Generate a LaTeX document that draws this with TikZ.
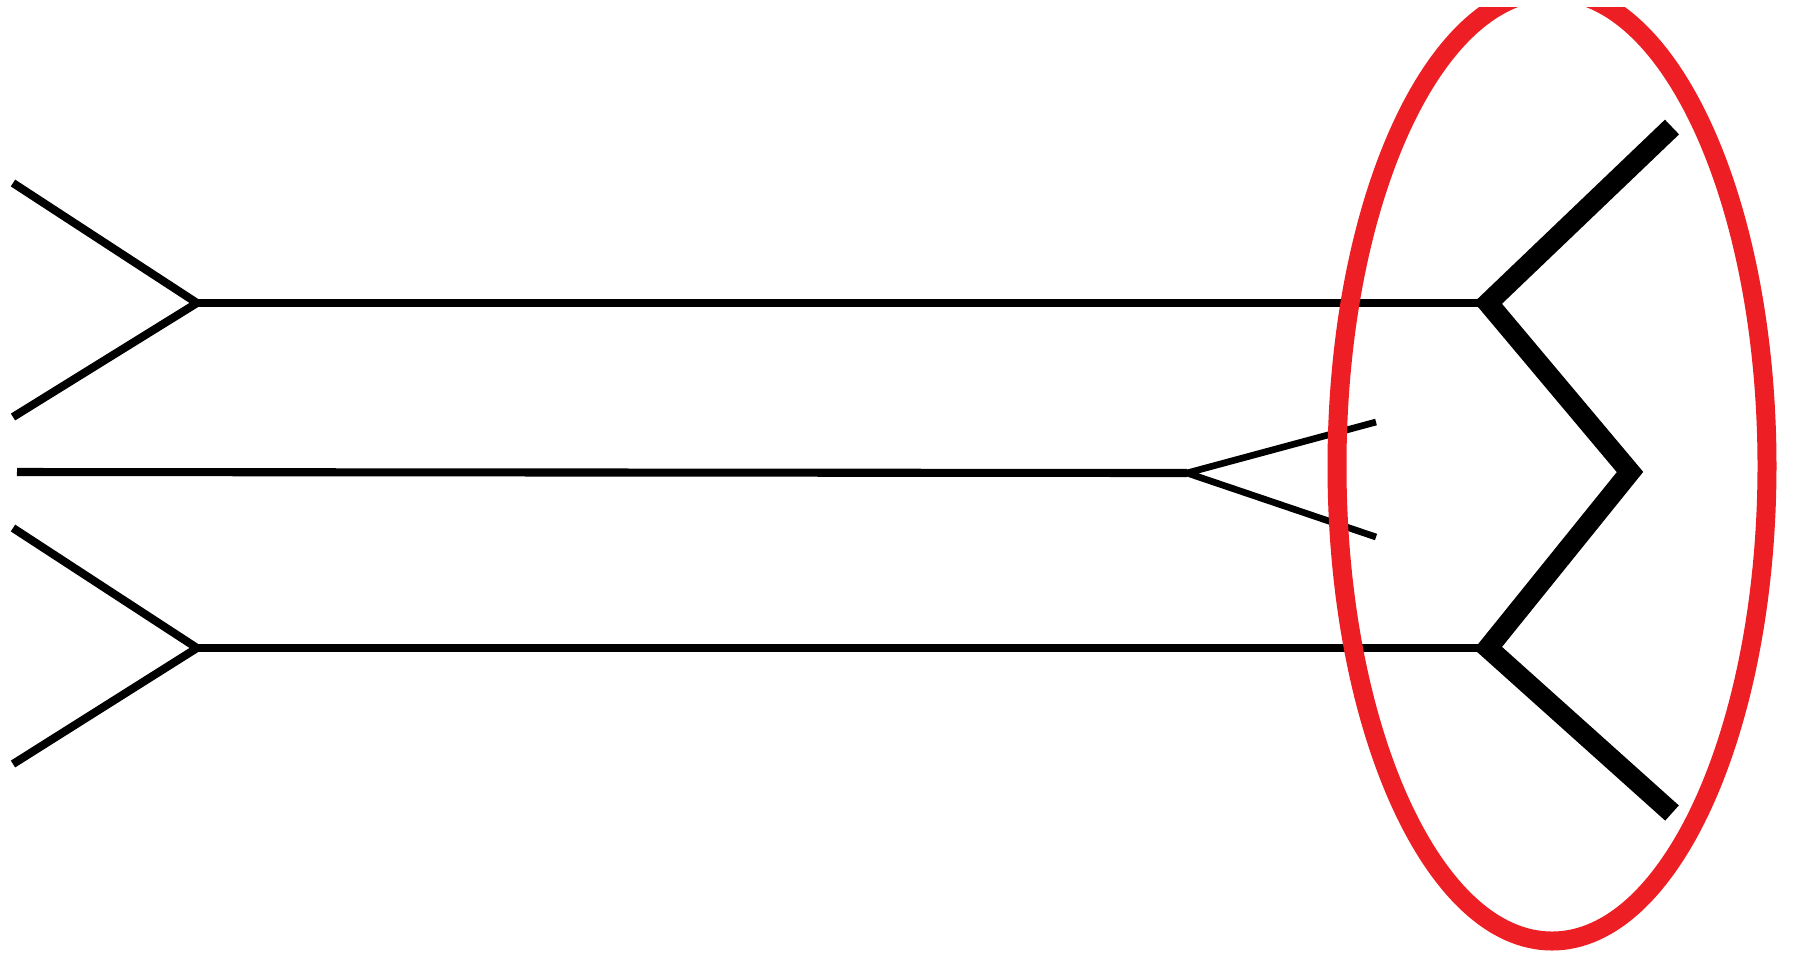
\documentclass[tikz,border=0pt]{standalone}
\begin{document}
\begin{tikzpicture}[x=0.01cm,y=-0.01cm,
  thin line/.style={line width=2.3pt,black},
  fine line/.style={line width=1.9pt,black},
  thick line/.style={line width=5.8pt,black,line join=miter},
  ring/.style={line width=5.4pt,draw={rgb,255:red,237;green,31;blue,36}}]
\fill[white] (0,0) rectangle (1793,956);
\useasboundingbox (0,0) rectangle (1793,956);
% top arrow
\coordinate (tlA) at (13,183);
\coordinate (tlV) at (197,303);
\coordinate (tlB) at (13,417);
\coordinate (trV) at (1488,303);
% bottom arrow
\coordinate (blA) at (13,528);
\coordinate (blV) at (197,648);
\coordinate (blB) at (13,764);
\coordinate (brV) at (1488,648);
% middle
\coordinate (mL) at (17,472);
\coordinate (mV) at (1187,473);
\coordinate (mA) at (1376,422);
\coordinate (mB) at (1376,537);
% right zigzag
\coordinate (zA) at (1672,127);
\coordinate (zM) at (1630,472);
\coordinate (zB) at (1672,813);
\draw[thin line] (tlA) -- (tlV) -- (tlB);
\draw[thin line] (tlV) -- (trV);
\draw[thin line] (blA) -- (blV) -- (blB);
\draw[thin line] (blV) -- (brV);
\draw[thin line] (mL) -- (mV);
\draw[fine line] (mA) -- (mV) -- (mB);
\draw[thick line] (zA) -- (trV) -- (zM) -- (brV) -- (zB);
\begin{scope}
\clip (0,7) rectangle (1793,956);
\draw[ring] (1552,466) ellipse [x radius=215, y radius=475];
\end{scope}
\end{tikzpicture}
\end{document}
